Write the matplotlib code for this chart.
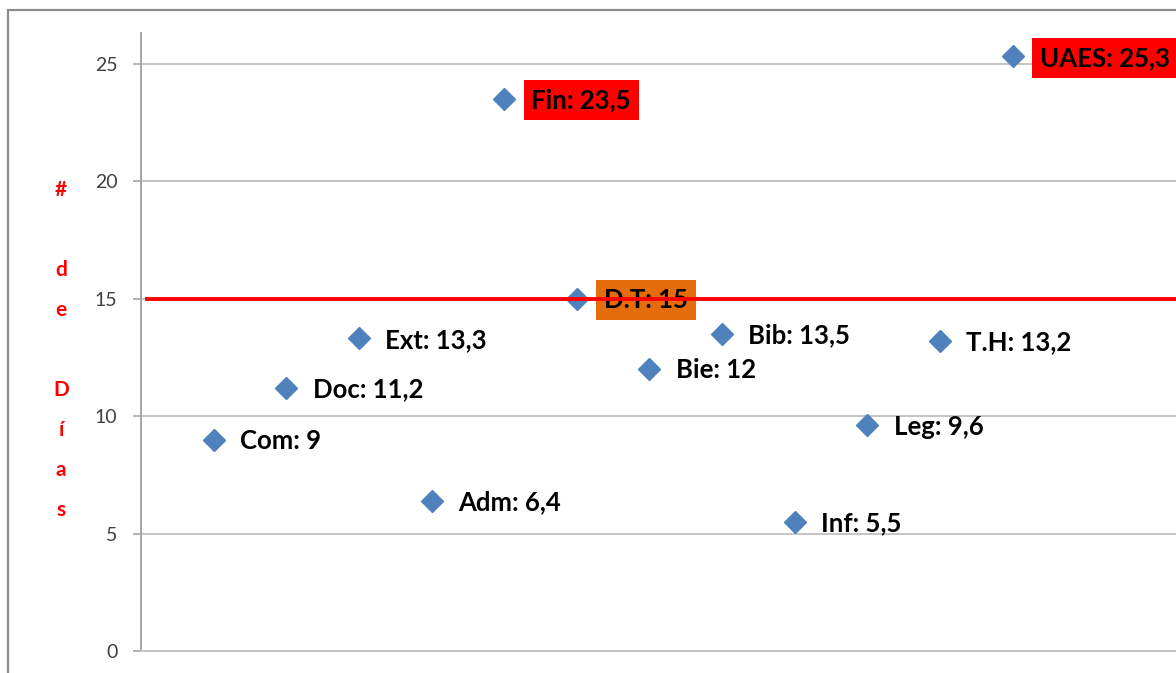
import matplotlib
matplotlib.use("Agg")
import matplotlib.pyplot as plt
from matplotlib.patches import Rectangle

# Data
labels = ["Com", "Doc", "Ext", "Adm", "Fin", "D.T", "Bie", "Bib", "Inf", "Leg", "T.H", "UAES"]
values = [9, 11.2, 13.3, 6.4, 23.5, 15, 12, 13.5, 5.5, 9.6, 13.2, 25.3]
value_text = ["9", "11,2", "13,3", "6,4", "23,5", "15", "12", "13,5", "5,5", "9,6", "13,2", "25,3"]
highlight = {"Fin": "#FF0000", "UAES": "#FF0000", "D.T": "#E46C0A"}
reference_line = 15
yticks = [0, 5, 10, 15, 20, 25]
ylabel = "# de Días"

W, H = 1176, 673
fig = plt.figure(figsize=(W / 100, H / 100), dpi=100)
ax = fig.add_axes([141 / W, 22 / H, 1 - 141 / W, (651 - 33) / H])

xs = list(range(1, len(values) + 1))
ax.set_xlim(0, 14.25)
ax.set_ylim(0, 26.3)

ax.plot(xs, values, linestyle="none", marker="D", markersize=11,
        color="#4F81BD", markeredgecolor="#4F81BD", zorder=3, clip_on=False)

ax.axhline(reference_line, xmin=0.006, xmax=1, color="#FF0000", lw=2.8, zorder=5)

for x, y, lab, vt in zip(xs, values, labels, value_text):
    txt = f"{lab}: {vt}"
    kw = dict(xy=(x, y), xytext=(19, -1), textcoords="offset points",
              ha="left", va="center", fontsize=18.5, fontweight="bold",
              color="black", family="Lato", zorder=4, annotation_clip=False)
    if lab in highlight:
        kw["xytext"] = (19.5, -1)
        kw["bbox"] = dict(boxstyle="square,pad=0.3", fc=highlight[lab], ec="none")
    ax.annotate(txt, **kw)

ax.set_yticks(yticks)
ax.set_yticklabels([str(t) for t in yticks], fontsize=14, color="#404040", family="Lato")
ax.tick_params(axis="y", length=6, width=1.2, color="#A6A6A6", pad=11)
ax.tick_params(axis="x", length=0, labelbottom=False)
ax.grid(axis="y", color="#C4C4C4", lw=1.4)
ax.set_axisbelow(True)
for s in ["top", "right"]:
    ax.spines[s].set_visible(False)
ax.spines["left"].set_color("#A6A6A6")
ax.spines["left"].set_linewidth(1.4)
ax.spines["bottom"].set_color("#C4C4C4")
ax.spines["bottom"].set_linewidth(1.4)

# vertical, one-character-per-line axis title
for i, ch in enumerate(ylabel):
    fig.text(61 / W, 1 - (190 + 40 * i) / H, ch, ha="center", va="center",
             color="#FF0000", fontsize=15, fontweight="bold", family="Lato")

fig.patches.append(Rectangle((8 / W, -0.1), 2, 1.1 - 10 / H, transform=fig.transFigure,
                             fill=False, ec="#8C8C8C", lw=1.6))

fig.savefig("out.png", dpi=100)
